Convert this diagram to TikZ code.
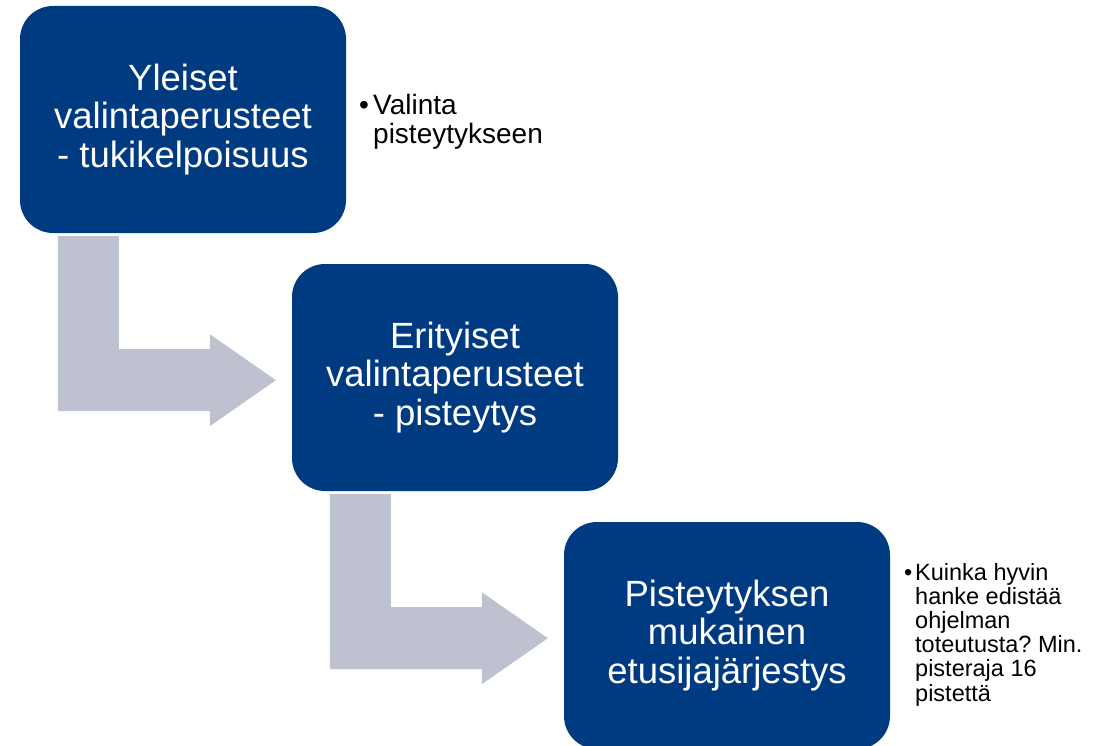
\documentclass[tikz,border=0pt]{standalone}
\usepackage{fontspec}
\setmainfont{Liberation Sans}
\usetikzlibrary{calc}
\frenchspacing
\definecolor{boxblue}{HTML}{003A80}
\definecolor{arrowgrey}{HTML}{BEC1CF}
\tikzset{
  stagebox/.style={draw=none, fill=boxblue, rounded corners=33pt, minimum width=326pt, minimum height=227pt,
    inner sep=0pt, text=white, align=center, font={\fontsize{36.5}{38.5}\selectfont}},
  bentarrow/.pic={
    \fill[arrowgrey] (38,3) -- (99,3) -- (99,116) -- (190,116) -- (190,101) -- (256,147)
      -- (190,193) -- (190,178) -- (38,178) -- cycle;
  },
  sidenote/.style={anchor=base west, inner sep=0pt, text=black},
}
\begin{document}
\begin{tikzpicture}[x=1pt,y=-1pt]
\useasboundingbox (0,0) rectangle (1102,746);
\node[stagebox] (b1) at (183,119.5) {Yleiset\\valintaperusteet\\- tukikelpoisuus};
\node[stagebox] (b2) at (455,377.5) {Erityiset\\valintaperusteet\\- pisteytys};
\begin{scope}
\clip (0,0) rectangle (1102,746);
\node[stagebox] (b3) at (727,635.5) {Pisteytyksen\\mukainen\\etusijajärjestys};
\end{scope}
\pic at (b1.south west) {bentarrow};
\pic at (b2.south west) {bentarrow};
\node[sidenote, font={\fontsize{28}{28}\selectfont\frenchspacing}] (n1) at (359,115)
  {\begin{tabular}[t]{@{}l@{}l@{}}\makebox[14pt][l]{•}&Valinta\\&pisteytykseen\end{tabular}};
\node[sidenote, font={\fontsize{23.5}{24}\selectfont\frenchspacing}] (n3) at (904,580)
  {\begin{tabular}[t]{@{}l@{}l@{}}\makebox[11pt][l]{•}&Kuinka hyvin\\&hanke edistää\\&ohjelman\\&toteutusta? Min.\\&pisteraja 16\\&pistettä\end{tabular}};
\end{tikzpicture}
\end{document}
